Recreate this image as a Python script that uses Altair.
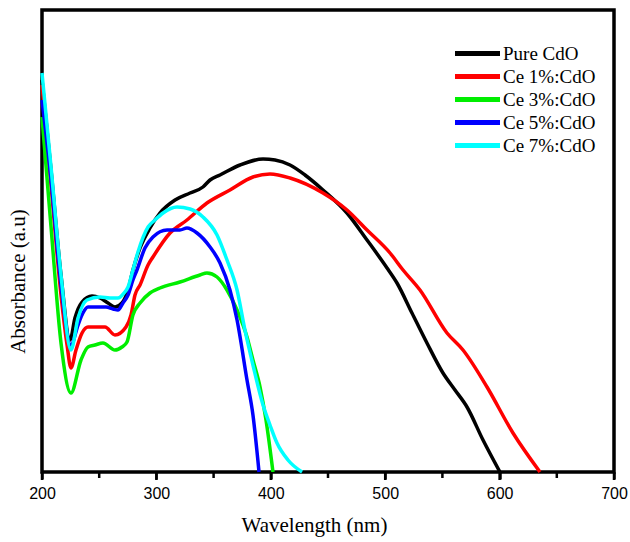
import altair as alt
import pandas as pd

series_names = ["Pure CdO", "Ce 1%:CdO", "Ce 3%:CdO", "Ce 5%:CdO", "Ce 7%:CdO"]
series_colors = ["#000000", "#ff0000", "#00ee00", "#0000ff", "#00ffff"]

pure_wl = [200.0, 207.9, 216.6, 224.5, 228.8, 235.0, 243.7, 250.7, 257.7, 263.8, 269.9, 275.2,
           279.5, 285.7, 294.4, 303.1, 316.3, 329.4, 340.7, 346.9, 355.6, 373.1, 393.2, 403.7,
           416.8, 429.9, 445.6, 466.6, 484.1, 501.6, 510.3, 523.4, 536.5, 550.5, 561.0, 571.5,
           585.5, 600.3]
pure_abs = [3.92, 3.02, 1.97, 1.32, 1.54, 1.70, 1.76, 1.74, 1.69, 1.65, 1.69, 1.82,
            2.02, 2.24, 2.44, 2.59, 2.72, 2.79, 2.85, 2.92, 2.97, 3.07, 3.13, 3.12,
            3.07, 2.97, 2.82, 2.59, 2.32, 2.04, 1.89, 1.59, 1.29, 0.99, 0.82, 0.65,
            0.32, 0.00]

ce1_wl = [200.0, 207.9, 216.6, 221.9, 225.3, 229.7, 235.0, 240.2, 255.1, 263.8, 273.4, 277.8,
          281.3, 285.7, 292.7, 297.0, 311.9, 326.7, 344.2, 364.3, 384.4, 399.3, 416.8, 445.6,
          466.6, 484.1, 504.2, 515.6, 530.4, 554.0, 568.0, 589.0, 611.7, 635.3]
ce1_abs = [3.87, 2.87, 1.77, 1.27, 1.04, 1.22, 1.39, 1.45, 1.45, 1.37, 1.45, 1.57,
           1.77, 1.87, 2.07, 2.15, 2.39, 2.52, 2.69, 2.82, 2.95, 2.98, 2.94, 2.79,
           2.62, 2.42, 2.19, 2.02, 1.82, 1.39, 1.22, 0.85, 0.39, 0.00]

ce3_wl = [200.0, 207.9, 216.6, 225.3, 234.1, 240.2, 246.3, 253.3, 263.8, 269.9, 274.3, 279.5,
          285.7, 294.4, 303.1, 320.6, 338.1, 344.2, 353.0, 361.7, 370.5, 379.2, 384.4, 390.6,
          395.8, 401.9]
ce3_abs = [3.55, 2.45, 1.29, 0.79, 1.12, 1.25, 1.27, 1.29, 1.22, 1.25, 1.30, 1.57,
           1.69, 1.79, 1.84, 1.90, 1.97, 1.99, 1.95, 1.82, 1.62, 1.35, 1.12, 0.85,
           0.52, 0.00]

ce5_wl = [200.0, 207.9, 216.6, 225.3, 231.5, 235.8, 240.2, 250.7, 255.9, 262.1, 266.4, 270.8,
          275.2, 279.5, 283.0, 290.0, 297.0, 309.3, 320.6, 326.7, 335.5, 346.9, 355.6, 364.3,
          370.5, 379.2, 384.4, 389.7]
ce5_abs = [3.72, 2.92, 1.87, 1.27, 1.47, 1.59, 1.65, 1.65, 1.65, 1.63, 1.62, 1.69,
           1.77, 1.92, 2.02, 2.24, 2.35, 2.42, 2.42, 2.44, 2.39, 2.25, 2.09, 1.82,
           1.52, 0.92, 0.57, 0.00]

ce7_wl = [200.0, 207.9, 216.6, 225.3, 231.5, 239.3, 250.7, 259.4, 266.4, 271.7, 275.2, 279.5,
          283.9, 292.7, 298.8, 305.8, 318.0, 329.4, 340.7, 353.0, 361.7, 370.5, 377.4, 384.4,
          393.2, 399.3, 405.4, 415.0, 427.3]
ce7_abs = [3.99, 3.05, 1.97, 1.22, 1.54, 1.72, 1.75, 1.74, 1.74, 1.79, 1.85, 2.02,
           2.20, 2.45, 2.52, 2.59, 2.65, 2.63, 2.55, 2.37, 2.12, 1.82, 1.42, 1.07,
           0.67, 0.47, 0.29, 0.12, 0.00]

major_ticks = [200, 300, 400, 500, 600, 700]
minor_ticks = [250, 350, 450, 550, 650]

rows = []
for name, wls, abss in zip(series_names,
                           [pure_wl, ce1_wl, ce3_wl, ce5_wl, ce7_wl],
                           [pure_abs, ce1_abs, ce3_abs, ce5_abs, ce7_abs]):
    for i, (w, a) in enumerate(zip(wls, abss)):
        rows.append({"series": name, "wl": w, "abs": a, "idx": i})
df = pd.DataFrame(rows)
major_df = pd.DataFrame({"wl": major_ticks})
minor_df = pd.DataFrame({"wl": minor_ticks})

xscale = alt.Scale(domain=[200, 700], nice=False, zero=False)
yscale = alt.Scale(domain=[0, 4.62], nice=False, zero=False)
PLOT_H = 462

lines = alt.Chart(df).mark_line(strokeWidth=3.5, interpolate="monotone").encode(
    x=alt.X("wl:Q", scale=xscale,
            axis=alt.Axis(values=major_ticks, orient="bottom",
                          tickSize=7, tickWidth=2.5, tickColor="black", ticks=True,
                          domain=False, grid=False,
                          labelFont="Liberation Sans", labelFontSize=16, labelColor="black",
                          labelPadding=6, labelFlush=False,
                          title="Wavelength (nm)", titleFont="Liberation Serif", titleFontSize=21,
                          titleFontWeight="normal", titleColor="black", titleX=272, titleY=42)),
    y=alt.Y("abs:Q", scale=yscale,
            axis=alt.Axis(labels=False, ticks=False, domain=False, grid=False,
                          title="Absorbance (a.u)", titleFont="Liberation Serif", titleFontSize=21,
                          titleFontWeight="normal", titleColor="black", titleX=-14, titleY=271)),
    color=alt.Color("series:N",
                    scale=alt.Scale(domain=series_names, range=series_colors),
                    legend=alt.Legend(orient="none", legendX=423, legendY=31, title=None,
                                      symbolType="M-2.25,0H2.25", symbolSize=400,
                                      symbolStrokeWidth=5,
                                      labelFont="Liberation Serif", labelFontSize=19,
                                      labelColor="black", labelOffset=13, rowPadding=0,
                                      padding=0)),
    order=alt.Order("idx:Q"),
)

major_marks = alt.Chart(major_df).mark_tick(
    color="black", orient="vertical", size=8, thickness=2.5, opacity=1, filled=True
).encode(
    x=alt.X("wl:Q", scale=xscale),
    y=alt.value(PLOT_H + 4),
)

minor_marks = alt.Chart(minor_df).mark_tick(
    color="black", orient="vertical", size=6, thickness=2.5, opacity=1, filled=True
).encode(
    x=alt.X("wl:Q", scale=xscale),
    y=alt.value(PLOT_H + 3),
)

chart = alt.layer(lines, major_marks, minor_marks).properties(
    width=572, height=PLOT_H,
    autosize=alt.AutoSizeParams(type="none"),
    padding={"left": 42, "top": 10, "right": 16, "bottom": 70},
    background="white",
).configure_view(stroke="black", strokeWidth=3.5)

chart.save("out.html", embed_options={"renderer": "svg", "actions": False})
